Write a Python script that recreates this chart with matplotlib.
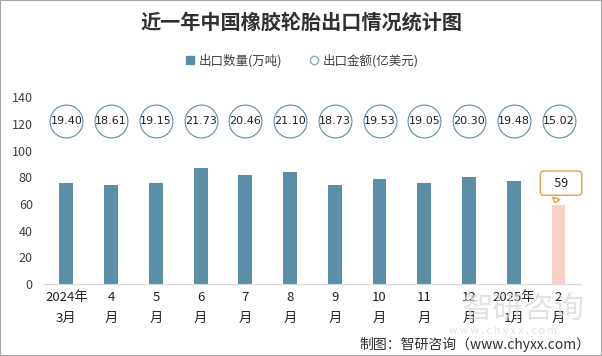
import matplotlib.pyplot as plt
from matplotlib.lines import Line2D
from matplotlib.patches import Rectangle

plt.rcParams['font.family'] = ['Noto Sans CJK SC', 'DejaVu Sans']

# ── data ──────────────────────────────────────────────────────────────
months = ["2024年\n3月", "4\n月", "5\n月", "6\n月", "7\n月", "8\n月",
          "9\n月", "10\n月", "11\n月", "12\n月", "2025年\n1月", "2\n月"]
volume = [76, 74, 76, 87, 82, 84, 74, 79, 76, 80, 77, 59]          # 万吨
amount = [19.40, 18.61, 19.15, 21.73, 20.46, 21.10,
          18.73, 19.53, 19.05, 20.30, 19.48, 15.02]                 # 亿美元

bar_c = "#5b8fa8"
last_c = "#f8d1c8"
txt_c = "#404040"

fig = plt.figure(figsize=(6.02, 3.56), dpi=100)
ax = fig.add_axes([0.073, 0.2022, 0.892, 0.5245])

x = list(range(len(months)))
colors = [bar_c] * (len(x) - 1) + [last_c]
ax.bar(x, volume, width=0.31, color=colors, zorder=2)

# amount bubbles at fixed height
ax.scatter(x, [122] * len(x), s=560, facecolor="white", edgecolor=bar_c,
           linewidth=0.8, zorder=3, clip_on=False)
for xi, v in zip(x, amount):
    ax.text(xi, 122, f"{v:.2f}", ha="center", va="center", fontsize=8,
            color="#202020", zorder=4, family="DejaVu Sans")

# callout on the latest month
ax.annotate(f"   {volume[-1]}   ", xy=(x[-1] - 0.1, volume[-1]),
            xytext=(5, 16), textcoords="offset points",
            ha="center", va="center", fontsize=9, color="#202020",
            bbox=dict(boxstyle="round,pad=0.45,rounding_size=0.3",
                      fc="white", ec="#ed9b3f", lw=1),
            arrowprops=dict(arrowstyle="wedge,tail_width=0.6,shrink_factor=0.5",
                            fc="white", ec="#ed9b3f", lw=1),
            zorder=5)

ax.set_xlim(-0.5, len(x) - 0.5)
ax.set_ylim(0, 140)
ax.set_yticks(range(0, 141, 20))
ax.set_xticks(x)
ax.set_xticklabels(months, fontsize=9.5, color="#202020", linespacing=1.75)
ax.tick_params(axis="y", length=0, labelsize=9, labelcolor=txt_c, pad=8)
ax.tick_params(axis="x", length=0, pad=5)
for s in ["top", "right", "left"]:
    ax.spines[s].set_visible(False)
ax.spines["bottom"].set_color("#d9d9d9")

# title and legend
fig.text(0.5, 1 - 22 / 356, "近一年中国橡胶轮胎出口情况统计图", ha="center",
         va="center", fontsize=14.5, fontweight="bold", color="#303030")
handles = [
    Line2D([], [], marker="s", ls="", color=bar_c, markersize=6),
    Line2D([], [], marker="o", ls="", mfc="white", mec="#8aa8b8", markersize=6),
]
fig.legend(handles, ["出口数量(万吨)", "出口金额(亿美元)"], loc="center",
           bbox_to_anchor=(0.5, 1 - 61 / 356), ncol=2, frameon=False,
           fontsize=9, handletextpad=0.2, columnspacing=2.0,
           labelcolor=txt_c, handlelength=1.0)

# watermark
fig.text(0.87, 1 - 309 / 356, "智研咨询", ha="center", va="center",
         fontsize=22, color="#d6d6d6", alpha=0.7, zorder=0)
fig.text(0.835, 1 - 331 / 356, "w w w . c h y x x . c o m", ha="center",
         va="center", fontsize=7.5, color="#d6d6d6", alpha=0.7, zorder=0)

# footer
fig.text(0.98, 1 - 344 / 356, "制图：智研咨询（www.chyxx.com）", ha="right",
         va="center", fontsize=10, color="#303030")

# outer frame
fig.patches.append(Rectangle((0, 0), 1, 1, transform=fig.transFigure,
                             fill=False, ec="#a6a6a6", lw=1.5))

fig.savefig("out.png", dpi=100)
